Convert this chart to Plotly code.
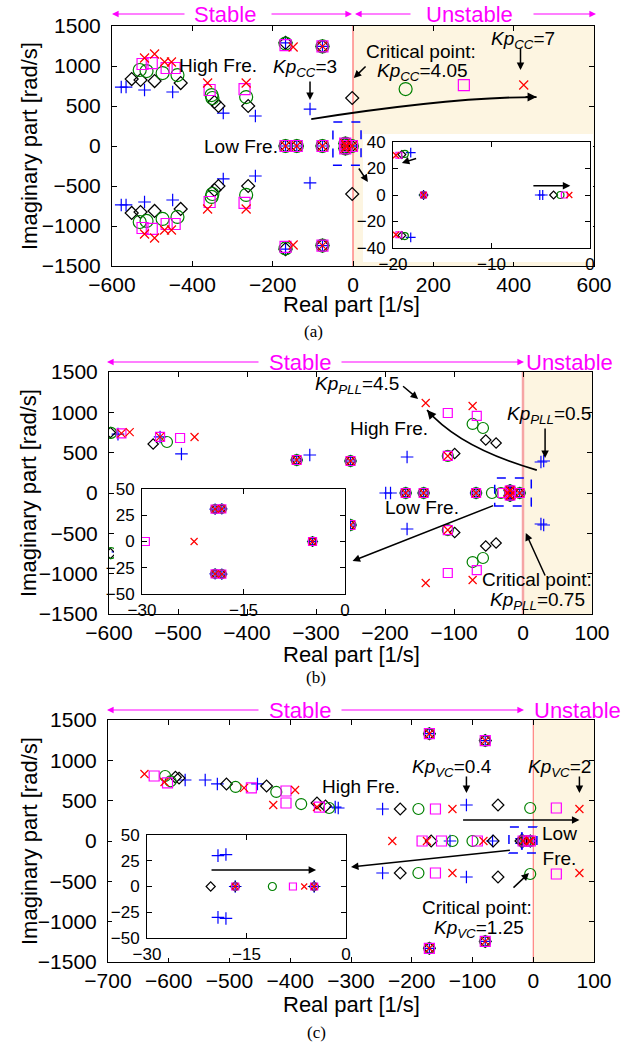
import plotly.graph_objects as go

W, H = 626, 1042
FONT = "Liberation Sans, Arial, sans-serif"
SERIF = "Liberation Serif, Times New Roman, serif"

# ---------------- data: eigenvalues (real, imag >= 0); conjugates mirrored ----------------
# (a) Kp_CC sweep: 3 (blue +) ... 4.05 (black diamond, critical) ... 7 (red x)
A_BLUE = [(-577, 737), (-565, 737), (-519, 700), (-449, 675), (-323, 412), (-243, 375),
          (-168, 1290), (-76, 1245), (-107, 462), (-168, 0), (-140, 0), (-76, 0),
          (-18.2, 32), (-16.9, 0), (-5.1, 0), (-4.8, 0)]
A_BLACK = [(-551, 837), (-529, 825), (-494, 812), (-429, 787), (-345, 550), (-335, 500),
           (-261, 500), (-168, 1290), (-76, 1245), (-2, 600), (-168, 0), (-140, 0), (-76, 0),
           (-19.1, 30.5), (-16.9, 0), (-3.7, 0)]
A_GREEN = [(-531, 950), (-514, 937), (-474, 912), (-437, 887), (-352, 637), (-350, 600),
           (-266, 612), (-168, 1280), (-76, 1245), (131, 712), (-168, 0), (-140, 0), (-76, 0),
           (-18.8, 31), (-16.9, 0), (-3.0, 0)]
A_MAGENTA = [(-524, 1025), (-501, 1037), (-464, 975), (-444, 975), (-357, 700), (-270, 712),
             (-168, 1262), (-76, 1245), (276, 762), (-168, 0), (-140, 0), (-76, 0),
             (-19.4, 30), (-16.9, 0), (-2.6, 0)]
A_RED = [(-519, 1100), (-494, 1150), (-469, 1050), (-452, 1050), (-362, 787), (-266, 787),
         (-149, 1237), (-76, 1245), (425, 762), (-168, 0), (-140, 0), (-76, 0),
         (-19.7, 30), (-16.9, 0), (-2.1, 0)]

# (b) Kp_PLL sweep: 0.5 (blue +) ... 4.5 (red x)
B_BLUE = [(-587, 730), (-526, 695), (-495, 484), (-328, 409), (-309, 471), (-250, 397),
          (-168, 446), (26, 384), (30, 397), (-199, 0), (-192, 0), (-170, 0), (-144, 0),
          (-68, 0), (-19.2, 30.8), (-18.2, 31), (-4.8, 0)]
B_BLACK = [(-598, 750), (-536, 607), (-328, 409), (-250, 397), (-99, 490), (-54, 657),
           (-39, 620), (-170, 0), (-144, 0), (-68, 0), (-19.2, 30.8), (-18.2, 31), (-4.8, 0)]
B_GREEN = [(-597, 745), (-516, 632), (-328, 409), (-250, 397), (-109, 459), (-73, 856),
           (-58, 806), (-170, 0), (-144, 0), (-68, 0), (-45, 0), (-32, 0),
           (-19.2, 30.8), (-18.2, 31), (-4.8, 0)]
B_MAGENTA = [(-582, 740), (-526, 695), (-497, 682), (-328, 409), (-250, 397), (-109, 459),
             (-109, 992), (-67, 955), (-170, 0), (-144, 0), (-68, 0), (-29.5, 0),
             (-19.2, 30.8), (-18.2, 31), (-4.8, 0)]
B_RED = [(-582, 740), (-570, 755), (-526, 695), (-476, 694), (-328, 409), (-250, 397),
         (-109, 459), (-141, 1116), (-73, 1079), (-170, 0), (-144, 0), (-68, 0), (-22.3, 0),
         (-19.2, 30.8), (-18.2, 31), (-4.8, 0)]

# (c) Kp_VC sweep: 0.4 (blue +) ... 1.25 (green, critical) ... 2 (red x)
C_BLUE = [(-573, 756), (-540, 756), (-520, 707), (-454, 707), (-326, 421), (-321, 409),
          (-248, 397), (-110, 446), (-171, 1330), (-79, 1245), (-137, 0), (-67, 0),
          (-19.3, 30), (-18.1, 31), (-16.7, 0), (-4.8, 0)]
C_BLACK = [(-589, 790), (-583, 780), (-505, 707), (-439, 682), (-356, 471), (-342, 434),
           (-219, 397), (-58, 446), (-171, 1330), (-79, 1245), (-168, 0), (-66, 0),
           (-20.4, 0), (-16.7, 0), (-4.8, 0)]
C_GREEN = [(-606, 806), (-597, 740), (-490, 670), (-423, 608), (-382, 458), (-336, 409),
           (-189, 397), (-5, 409), (-171, 1330), (-79, 1245), (-133, 0), (-100, 0),
           (-16.7, 0), (-11.1, 0), (-4.8, 0)]
C_MAGENTA = [(-624, 806), (-602, 720), (-464, 658), (-407, 620), (-407, 471), (-352, 421),
             (-161, 397), (38, 409), (-171, 1330), (-79, 1245), (-183, 0), (-151, 0),
             (-92, 0), (-16.7, 0), (-8.0, 0), (-4.8, 0)]
C_RED = [(-640, 831), (-607, 731), (-476, 658), (-392, 632), (-428, 446), (-356, 421),
         (-133, 397), (76, 397), (-171, 1330), (-79, 1245), (-232, 0), (-175, 0), (-82, 0),
         (-16.7, 0), (-6.3, 0), (-4.8, 0)]

A_XTICKS = [-600, -400, -200, 0, 200, 400, 600]
B_XTICKS = [-600, -500, -400, -300, -200, -100, 0, 100]
C_XTICKS = [-700, -600, -500, -400, -300, -200, -100, 0, 100]
Y_TICKS = [-1500, -1000, -500, 0, 500, 1000, 1500]
A_INSET_XTICKS = [-20, -10, 0]
A_INSET_YTICKS = [-40, -20, 0, 20, 40]
BC_INSET_XTICKS = [-30, -15, 0]
BC_INSET_YTICKS = [-50, -25, 0, 25, 50]

# ---------------- styling ----------------
STYLES = [("cross-thin-open", "#0000FF"), ("diamond-open", "#000000"),
          ("circle-open", "#008000"), ("square-open", "#FF00FF"), ("x-thin-open", "#FF0000")]
SHADE = "#FDF5E1"


def X(p):
    return p / W


def Y(p):
    return 1 - p / H


def conj(pts):
    re, im = [], []
    for r, i in pts:
        re.append(r)
        im.append(i)
        if i != 0:
            re.append(r)
            im.append(-i)
    return re, im


panels = [
    dict(data=[A_BLUE, A_BLACK, A_GREEN, A_MAGENTA, A_RED],
         main=(112, 594, 26, 266), cover=(363, 593, 134, 262), inset=(393, 590, 142, 248),
         xr=[-600, 600], xt=A_XTICKS, ixr=[-20, 0], ixt=A_INSET_XTICKS,
         iyr=[-40, 40], iyt=A_INSET_YTICKS,
         sizes=[9, 10, 13, 11, 9], isizes=[7, 6, 7, 6, 6], shade=[0, 600],
         redline=("#FF6A6A", 1.2)),
    dict(data=[B_BLUE, B_BLACK, B_GREEN, B_MAGENTA, B_RED],
         main=(109, 592, 372, 614), cover=(114, 350, 478, 609), inset=(142, 345, 489, 594),
         xr=[-600, 100], xt=B_XTICKS, ixr=[-30, 0], ixt=BC_INSET_XTICKS,
         iyr=[-50, 50], iyt=BC_INSET_YTICKS,
         sizes=[9, 8, 11, 9, 8], isizes=[8, 7, 9, 8, 7], shade=[0, 100],
         redline=("#F6A5A5", 2.5)),
    dict(data=[C_BLUE, C_BLACK, C_GREEN, C_MAGENTA, C_RED],
         main=(108, 594, 720, 962), cover=(112, 350, 826, 958), inset=(147, 346, 835, 938),
         xr=[-700, 100], xt=C_XTICKS, ixr=[-30, 0], ixt=BC_INSET_XTICKS,
         iyr=[-50, 50], iyt=BC_INSET_YTICKS,
         sizes=[9, 9, 11, 10, 8], isizes=[9, 7, 8, 7, 6], shade=[0, 100],
         redline=("#FF6A6A", 1.0)),
]

fig = go.Figure()
layout = {}
shapes = []
annotations = []


def axname(kind, n):
    return kind + "axis" + ("" if n == 1 else str(n))


def ref(kind, n):
    return kind + ("" if n == 1 else str(n))


def axis_style(size, standoff):
    return dict(ticks="inside", ticklen=5, tickwidth=1, tickcolor="black",
                showline=True, linecolor="black", linewidth=1, mirror="ticks",
                showgrid=False, zeroline=False, automargin=False,
                tickfont=dict(family=FONT, size=size, color="black"),
                ticklabelstandoff=standoff)


for pi, P in enumerate(panels):
    nm, nc, ni = 3 * pi + 1, 3 * pi + 2, 3 * pi + 3
    l, r, t, b = P["main"]
    layout[axname("x", nm)] = dict(domain=[X(l), X(r)], range=P["xr"], tickvals=P["xt"],
                                   anchor=ref("y", nm), **axis_style(21, 0))
    layout[axname("y", nm)] = dict(domain=[Y(b), Y(t)], range=[-1500, 1500], tickvals=Y_TICKS,
                                   anchor=ref("x", nm), **axis_style(21, 6))
    l, r, t, b = P["cover"]
    layout[axname("x", nc)] = dict(domain=[X(l), X(r)], range=[0, 1], visible=False,
                                   automargin=False, anchor=ref("y", nc))
    layout[axname("y", nc)] = dict(domain=[Y(b), Y(t)], range=[0, 1], visible=False,
                                   automargin=False, anchor=ref("x", nc))
    l, r, t, b = P["inset"]
    layout[axname("x", ni)] = dict(domain=[X(l), X(r)], range=P["ixr"], tickvals=P["ixt"],
                                   anchor=ref("y", ni), **axis_style(17, 1))
    layout[axname("y", ni)] = dict(domain=[Y(b), Y(t)], range=P["iyr"], tickvals=P["iyt"],
                                   anchor=ref("x", ni), **axis_style(17, 3))

    # main traces
    for si, pts in enumerate(P["data"]):
        sym, col = STYLES[si]
        re, im = conj(pts)
        fig.add_trace(go.Scatter(x=re, y=im, mode="markers", xaxis=ref("x", nm), yaxis=ref("y", nm),
                                 marker=dict(symbol=sym, size=P["sizes"][si], color=col,
                                             line=dict(color=col, width=1.2)),
                                 showlegend=False, hoverinfo="skip"))
    # cover (white area behind the inset)
    fig.add_trace(go.Scatter(x=[None], y=[None], mode="markers", xaxis=ref("x", nc),
                             yaxis=ref("y", nc), showlegend=False, hoverinfo="skip"))
    # inset traces
    for si, pts in enumerate(P["data"]):
        sym, col = STYLES[si]
        re, im = conj(pts)
        fig.add_trace(go.Scatter(x=re, y=im, mode="markers", xaxis=ref("x", ni), yaxis=ref("y", ni),
                                 marker=dict(symbol=sym, size=P["isizes"][si], color=col,
                                             line=dict(color=col, width=1.2)),
                                 showlegend=False, hoverinfo="skip", cliponaxis=True))

    xr_, yr_ = ref("x", nm), ref("y", nm)
    shapes.append(dict(type="rect", xref=xr_, yref=yr_, x0=P["shade"][0], x1=P["shade"][1],
                       y0=-1500, y1=1500, fillcolor=SHADE, line=dict(width=0), layer="below"))
    shapes.append(dict(type="line", xref=xr_, yref=yr_, x0=0, x1=0, y0=-1500, y1=1500,
                       line=dict(color=P["redline"][0], width=P["redline"][1]), layer="below"))


def txt(x, y, text, xr, yr, size=19, color="black", angle=0, family=FONT):
    annotations.append(dict(x=x, y=y, text=text, xref=xr, yref=yr, showarrow=False,
                            textangle=angle, font=dict(family=family, size=size, color=color),
                            xanchor="center", yanchor="middle"))


def arrow(x, y, ax, ay, xr, yr, width=1.5, color="black"):
    annotations.append(dict(x=x, y=y, ax=ax, ay=ay, xref=xr, yref=yr, axref=xr, ayref=yr,
                            text="", showarrow=True, arrowhead=2, arrowsize=1,
                            arrowwidth=width, arrowcolor=color, standoff=0))


def parrow(xh, yh, xt):
    # paper-level magenta arrow, coordinates in pixels
    annotations.append(dict(x=X(xh), y=Y(yh), xref="paper", yref="paper", ax=xt - xh, ay=0,
                            axref="pixel", ayref="pixel", text="", showarrow=True,
                            arrowhead=2, arrowsize=1.1, arrowwidth=1.2, arrowcolor="#FF00FF",
                            standoff=0))


def ptxt(xp, yp, text, size=22, color="#FF00FF", angle=0, family=FONT):
    txt(X(xp), Y(yp), text, "paper", "paper", size=size, color=color, angle=angle, family=family)


def curve(p0, c, p2, xr, yr):
    shapes.append(dict(type="path", xref=xr, yref=yr,
                       path=f"M {p0[0]},{p0[1]} Q {c[0]},{c[1]} {p2[0]},{p2[1]}",
                       line=dict(color="black", width=1.8), layer="above"))
    ax = p2[0] - 0.15 * (p2[0] - c[0])
    ay = p2[1] - 0.15 * (p2[1] - c[1])
    arrow(p2[0], p2[1], ax, ay, xr, yr, width=1.8)


def dashbox(x0, x1, y0, y1, xr, yr):
    shapes.append(dict(type="rect", xref=xr, yref=yr, x0=x0, x1=x1, y0=y0, y1=y1,
                       line=dict(color="#0000FF", width=1.5, dash="dash"), layer="above"))


KP = "<i>Kp</i><sub><i>{}</i></sub>={}"

# ----- panel (a) -----
txt(-337, 1012, "High Fre.", "x", "y")
txt(-278, 0, "Low Fre.", "x", "y")
txt(-119, 975, KP.format("CC", "3"), "x", "y")
arrow(-107, 575, -107, 825, "x", "y")
txt(169, 1185, "Critical point:", "x", "y")
txt(174, 920, KP.format("CC", "4.05"), "x", "y")
arrow(2, 850, 35, 1012, "x", "y")
txt(422, 1325, KP.format("CC", "7"), "x", "y")
arrow(417, 950, 417, 1237, "x", "y")
dashbox(-50, 20, -240, 300, "x", "y")
arrow(37, -450, 12, -262, "x", "y")
curve((-104, 337), (250, 615), (457, 612), "x", "y")
arrow(-2.0, 7, -5.9, 7, "x3", "y3")
arrow(-19.1, 24.2, -17.5, 27.9, "x3", "y3")

# ----- panel (b) -----
txt(-241, 1339, KP.format("PLL", "4.5"), "x4", "y4")
arrow(-152, 1166, -176, 1339, "x4", "y4")
txt(38, 967, KP.format("PLL", "0.5"), "x4", "y4")
arrow(32, 434, 32, 818, "x4", "y4")
txt(-194, 794, "High Fre.", "x4", "y4")
curve((20, 285), (-92, 560), (-139, 1029), "x4", "y4")
txt(-147, -174, "Low Fre.", "x4", "y4")
dashbox(-41, 12, -161, 186, "x4", "y4")
arrow(-247, -843, -41, -149, "x4", "y4")
txt(20, -1070, "Critical point:", "x4", "y4")
txt(21, -1335, KP.format("PLL", "0.75"), "x4", "y4")
arrow(4, -496, 33, -1042, "x4", "y4")

# ----- panel (c) -----
txt(-283, 670, "High Fre.", "x7", "y7")
txt(-133, 905, KP.format("VC", "0.4"), "x7", "y7")
arrow(-110, 595, -110, 818, "x7", "y7")
txt(44, 905, KP.format("VC", "2"), "x7", "y7")
arrow(76, 595, 76, 818, "x7", "y7")
arrow(76, 260, -118, 260, "x7", "y7")
txt(43, -62, "Low<br>Fre.", "x7", "y7")
dashbox(-40, 6, -149, 174, "x7", "y7")
arrow(-300, -322, -36, -112, "x7", "y7")
txt(-92, -822, "Critical point:", "x7", "y7")
txt(-89, -1087, KP.format("VC", "1.25"), "x7", "y7")
arrow(-7, -397, -35, -595, "x7", "y7")
arrow(-4.5, 16, -20.5, 16, "x9", "y9")

# ----- Stable / Unstable headers -----
ptxt(225, 14, "Stable")
parrow(112, 14, 186)
parrow(352, 14, 270)
ptxt(469, 14, "Unstable")
parrow(355, 14, 412)
parrow(596, 14, 532)
for yy, ux in ((362, 569), (710, 577)):
    ptxt(300, yy, "Stable")
    parrow(107, yy, 260)
    parrow(524, yy, 340)
    ptxt(ux, yy, "Unstable")

# ----- axis titles and panel labels -----
for ty, ly in ((146, 304), (493, 654), (841, 1004)):
    ptxt(351, ly, "Real part [1/s]", size=22, color="black")
    ptxt(29, ty, "Imaginary part [rad/s]", size=22, color="black", angle=-90)
ptxt(313, 331, "(a)", size=17, color="black", family=SERIF)
ptxt(316, 677, "(b)", size=17, color="black", family=SERIF)
ptxt(316, 1032, "(c)", size=17, color="black", family=SERIF)

fig.update_layout(width=W, height=H, margin=dict(l=0, r=0, t=0, b=0, pad=0),
                  paper_bgcolor="white", plot_bgcolor="white", showlegend=False,
                  shapes=shapes, annotations=annotations, **layout)

fig.write_html("out.html", config={"displayModeBar": False},
               post_script="document.body.style.margin='0';document.body.style.overflow='hidden';")
